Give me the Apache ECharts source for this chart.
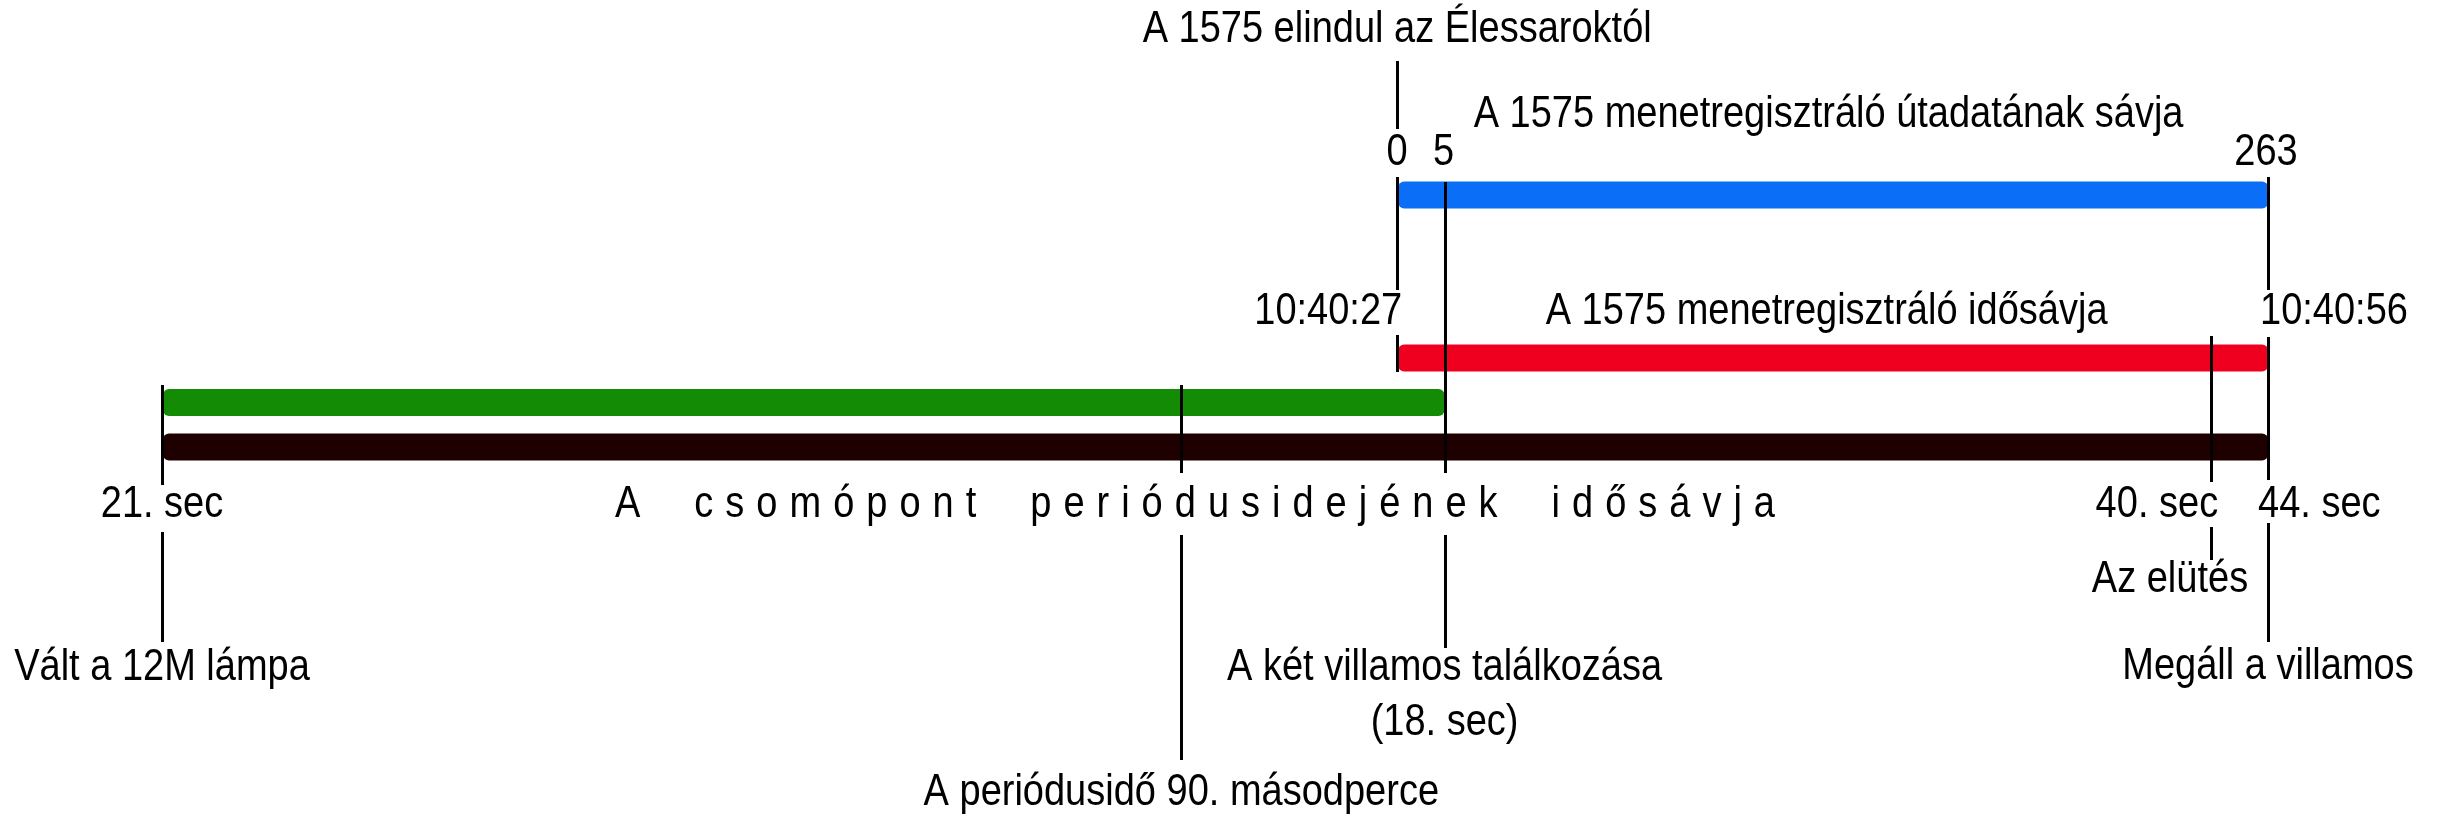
<!DOCTYPE html>
<html>
<head>
<meta charset="utf-8">
<script src="https://cdn.jsdelivr.net/npm/echarts@6/dist/echarts.min.js"></script>
<style>
html,body{margin:0;padding:0;background:#ffffff;}
#chart{width:2440px;height:817px;}
</style>
</head>
<body>
<div id="chart"></div>
<script>
// ================= DATA (schematic positions along the main time band, 0 = 21. sec, 100 = 44. sec) =================
const bandNames = [
  'A 1575 menetregisztráló útadatának sávja',
  'A 1575 menetregisztráló idősávja',
  'Zöld szakasz',
  'A csomópont periódusidejének idősávja'
];
const bandStart = [58.65, 58.65, 0, 0];
const bandEnd = [100, 100, 60.9, 100];

const eventNames = [
  'Vált a 12M lámpa',
  'A periódusidő 90. másodperce',
  'A 1575 elindul az Élessaroktól',
  'A két villamos találkozása',
  'Az elütés',
  'Megáll a villamos'
];
const eventNotes = ['', '', '', '(18. sec)', '', ''];
const eventPos = [0, 48.4, 58.65, 60.9, 97.3, 100];

const cycleTickLabels = ['21. sec', '40. sec', '44. sec'];
const cycleTickPos = [0, 97.3, 100];
const distanceTickLabels = ['0', '5', '263'];
const distanceTickPos = [58.65, 60.9, 100];
const clockTickLabels = ['10:40:27', '10:40:56'];
const clockTickPos = [58.65, 100];

// ================= STYLE / LAYOUT =================
const FONT_FAMILY = '"Liberation Sans", Arial, Helvetica, sans-serif';
const FS = 38;
const TEXT_SCALE_Y = 1.16;
const BAND_COLORS = ['#0B6EF6', '#F0001F', '#138B04', '#1E0000'];
const BAND_THICK = 27;
const BAND_RADIUS = 6;
// caption placement relative to band centre (px)
const BAND_CAPTION = [
  {dy: -80, dx: -4, spaced: false},
  {dy: -46, dx: -6, spaced: false},
  null,
  {dy: 58, dx: -20, spaced: true, gap: 12, wordGap: 54}
];
// vertical marker segments (pixel y ranges) and label rows for each event
const EVENT_LAYOUT = [
  {segs: [[385, 485], [532, 642]], labels: [{y: 668, align: 'center', dx: 0}]},
  {segs: [[385, 473], [535, 760]], labels: [{y: 793, align: 'center', dx: 0}]},
  {segs: [[61, 129], [177, 290], [335, 372]], labels: [{y: 30, align: 'center', dx: 0}]},
  {segs: [[182, 473], [535, 648]], labels: [{y: 668, align: 'center', dx: 0}, {y: 723, align: 'center', dx: 0, note: true}]},
  {segs: [[336, 482], [527, 560]], labels: [{y: 580, align: 'right', dx: 37}]},
  {segs: [[177, 290], [337, 480], [523, 642]], labels: [{y: 667, align: 'center', dx: 0}]}
];
const CYCLE_TICK_LAYOUT = [
  {y: 505, align: 'center', dx: 0},
  {y: 505, align: 'right', dx: 7},
  {y: 505, align: 'left', dx: -10}
];
const DIST_TICK_LAYOUT = [
  {y: 153, align: 'center', dx: 0},
  {y: 153, align: 'center', dx: -1},
  {y: 153, align: 'center', dx: -2}
];
const CLOCK_TICK_LAYOUT = [
  {y: 312, align: 'right', dx: 5},
  {y: 312, align: 'left', dx: -8}
];
const LINE_W = 3;

const measureCtx = document.createElement('canvas').getContext('2d');
measureCtx.font = FS + 'px ' + FONT_FAMILY;

function textEl(str, x, y, align) {
  return {
    type: 'text', x: x, y: y, scaleY: TEXT_SCALE_Y,
    style: {text: str, fontSize: FS, fontFamily: FONT_FAMILY, fill: '#000', align: align, verticalAlign: 'middle'}
  };
}

function spacedText(str, cx, cy, gap, wordGap) {
  const chars = Array.from(str);
  let total = 0;
  chars.forEach((ch, i) => {
    if (ch === ' ') { total += wordGap; return; }
    total += measureCtx.measureText(ch).width;
    if (i < chars.length - 1 && chars[i + 1] !== ' ') total += gap;
  });
  let x = cx - total / 2;
  const out = [];
  chars.forEach((ch, i) => {
    if (ch === ' ') { x += wordGap; return; }
    const w = measureCtx.measureText(ch).width;
    out.push(textEl(ch, x, cy, 'left'));
    x += w;
    if (i < chars.length - 1 && chars[i + 1] !== ' ') x += gap;
  });
  return out;
}

function renderBand(params, api) {
  const idx = api.value(3);
  const row = api.value(2);
  const p0 = api.coord([api.value(0), row]);
  const p1 = api.coord([api.value(1), row]);
  const children = [{
    type: 'rect',
    shape: {x: p0[0] + 1, y: p0[1] - BAND_THICK / 2, width: p1[0] - p0[0] - 1, height: BAND_THICK, r: BAND_RADIUS},
    style: {fill: BAND_COLORS[idx]}
  }];
  const cap = BAND_CAPTION[idx];
  if (cap) {
    const cx = (p0[0] + p1[0]) / 2 + cap.dx;
    const cy = p0[1] + cap.dy;
    if (cap.spaced) children.push(...spacedText(bandNames[idx], cx, cy, cap.gap, cap.wordGap));
    else children.push(textEl(bandNames[idx], cx, cy, 'center'));
  }
  return {type: 'group', children: children};
}

function renderEvent(params, api) {
  const idx = api.value(1);
  const x = api.coord([api.value(0), 0])[0];
  const xs = Math.round(x) + 0.5;
  const lay = EVENT_LAYOUT[idx];
  const children = lay.segs.map(s => ({
    type: 'line',
    shape: {x1: xs, y1: s[0], x2: xs, y2: s[1]},
    style: {stroke: '#000', lineWidth: LINE_W}
  }));
  lay.labels.forEach(l => {
    children.push(textEl(l.note ? eventNotes[idx] : eventNames[idx], x + l.dx, l.y, l.align));
  });
  return {type: 'group', children: children};
}

function tickRenderer(labels, layout) {
  return function (params, api) {
    const idx = api.value(1);
    const x = api.coord([api.value(0), 0])[0];
    const l = layout[idx];
    return textEl(labels[idx], x + l.dx, l.y, l.align);
  };
}

const chart = echarts.init(document.getElementById('chart'), null, {renderer: 'canvas'});
chart.setOption({
  animation: false,
  backgroundColor: '#ffffff',
  grid: [
    {left: 162, right: 172, top: 172, height: 46},
    {left: 162, right: 172, top: 335.75, height: 133.5}
  ],
  xAxis: [
    {type: 'value', gridIndex: 0, min: 0, max: 100, show: false},
    {type: 'value', gridIndex: 1, min: 0, max: 100, show: false}
  ],
  yAxis: [
    {type: 'category', gridIndex: 0, data: [bandNames[0]], show: false},
    {type: 'category', gridIndex: 1, data: bandNames.slice(1), inverse: true, show: false}
  ],
  series: [
    {
      type: 'custom', name: 'útadat', xAxisIndex: 0, yAxisIndex: 0,
      renderItem: renderBand, z: 2,
      data: [[bandStart[0], bandEnd[0], 0, 0]]
    },
    {
      type: 'custom', name: 'idősávok', xAxisIndex: 1, yAxisIndex: 1,
      renderItem: renderBand, z: 2,
      data: [1, 2, 3].map(i => [bandStart[i], bandEnd[i], i - 1, i])
    },
    {
      type: 'custom', name: 'események', xAxisIndex: 1, yAxisIndex: 1,
      renderItem: renderEvent, z: 5,
      data: eventPos.map((p, i) => [p, i])
    },
    {
      type: 'custom', name: 'ciklus', xAxisIndex: 1, yAxisIndex: 1,
      renderItem: tickRenderer(cycleTickLabels, CYCLE_TICK_LAYOUT), z: 6,
      data: cycleTickPos.map((p, i) => [p, i])
    },
    {
      type: 'custom', name: 'távolság', xAxisIndex: 1, yAxisIndex: 1,
      renderItem: tickRenderer(distanceTickLabels, DIST_TICK_LAYOUT), z: 6,
      data: distanceTickPos.map((p, i) => [p, i])
    },
    {
      type: 'custom', name: 'óra', xAxisIndex: 1, yAxisIndex: 1,
      renderItem: tickRenderer(clockTickLabels, CLOCK_TICK_LAYOUT), z: 6,
      data: clockTickPos.map((p, i) => [p, i])
    }
  ]
});
</script>
</body>
</html>
